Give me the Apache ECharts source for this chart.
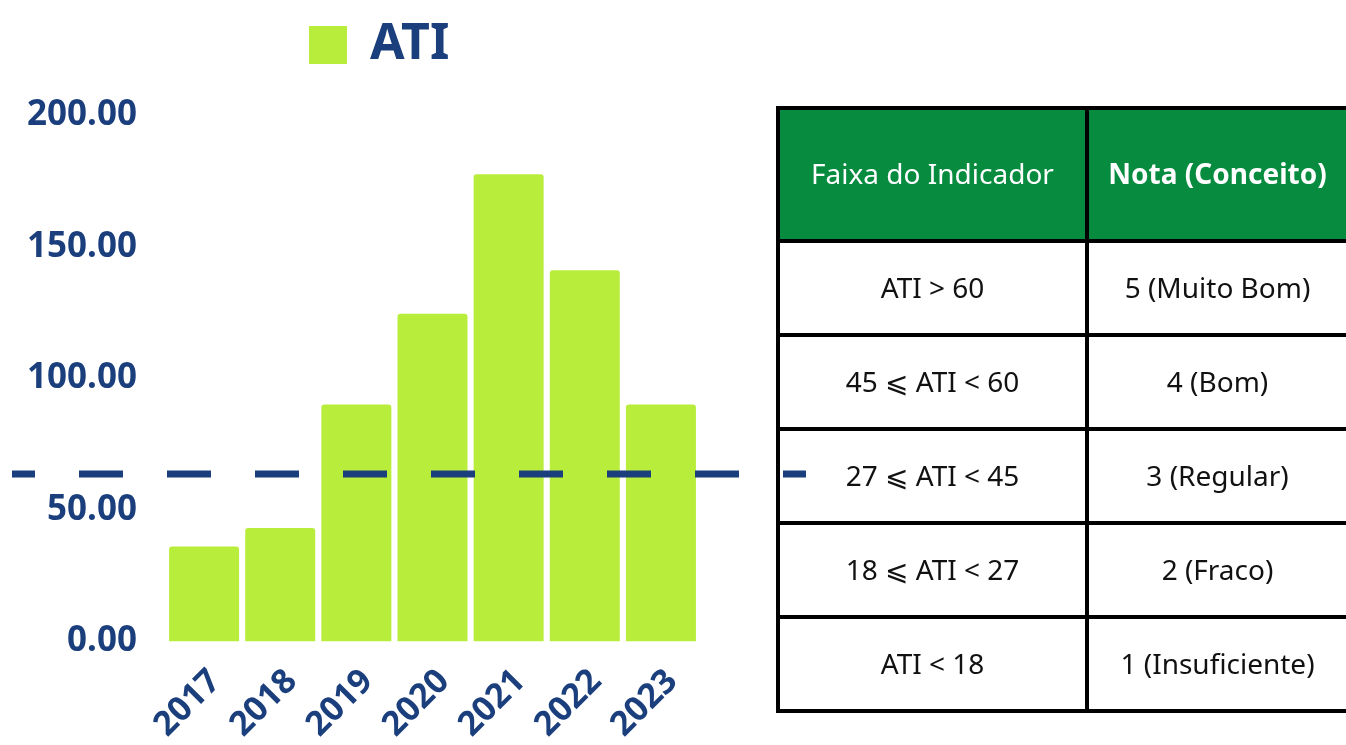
<!DOCTYPE html>
<html>
<head>
<meta charset="utf-8">
<title>ATI</title>
<script src="https://cdn.jsdelivr.net/npm/echarts@6/dist/echarts.min.js"></script>
<style>
  html, body { margin: 0; padding: 0; background: #fff; }
  #main { width: 1346px; height: 745px; }
</style>
</head>
<body>
<div id="main"></div>
<script>
// data
var years = ["2017", "2018", "2019", "2020", "2021", "2022", "2023"];
var atiValues = [36, 43, 90, 124.5, 177.5, 141, 90];
var threshold = 64;
var yTicks = [0, 50, 100, 150, 200];

var tableHeader = ["Faixa do Indicador", "Nota (Conceito)"];
var rangeCol = ["ATI > 60", "45 \u2A7D ATI < 60", "27 \u2A7D ATI < 45", "18 \u2A7D ATI < 27", "ATI < 18"];
var gradeCol = ["5 (Muito Bom)", "4 (Bom)", "3 (Regular)", "2 (Fraco)", "1 (Insuficiente)"];

var navy = "#1b3f7c";
var lime = "#b9ed3b";
var green = "#068b3f";
var font = "'Noto Sans', 'DejaVu Sans', sans-serif";

// table layout
var colEdges = [778, 1087, 1360];
var rowEdges = [108, 241, 335, 429, 523, 617, 711];

function buildTable() {
  var els = [];
  var rows = [tableHeader];
  for (var i = 0; i < rangeCol.length; i++) rows.push([rangeCol[i], gradeCol[i]]);
  for (var r = 0; r < rows.length; r++) {
    for (var c = 0; c < 2; c++) {
      var x = colEdges[c], y = rowEdges[r];
      var w = colEdges[c + 1] - x, h = rowEdges[r + 1] - y;
      var head = r === 0;
      els.push({
        type: "rect",
        z: 1,
        shape: { x: x, y: y, width: w, height: h },
        style: { fill: head ? green : null, stroke: "#000", lineWidth: 4 }
      });
      els.push({
        type: "text",
        z: 3,
        x: x + w / 2 - (c === 1 ? 6 : 0),
        y: y + h / 2 + 2,
        style: {
          text: rows[r][c],
          fill: head ? "#fff" : "#111",
          font: (head && c === 1 ? "bold " : "") + "28px " + font,
          align: "center",
          verticalAlign: "middle"
        }
      });
    }
  }
  return els;
}

var myChart = echarts.init(document.getElementById("main"));
var option = {
  animation: false,
  legend: {
    data: ["ATI"],
    left: 309,
    top: 20,
    padding: 0,
    itemWidth: 38,
    itemHeight: 38,
    icon: "rect",
    textStyle: { color: navy, fontSize: 50, fontWeight: "bold", fontFamily: font, padding: [0, 0, 0, 18] }
  },
  grid: [
    { left: 166, right: 647, top: 115, bottom: 102 },
    { left: 12, width: 794, top: 115, bottom: 102 }
  ],
  xAxis: [
    {
      type: "category",
      gridIndex: 0,
      data: years,
      axisLine: { show: false },
      axisTick: { show: false },
      axisLabel: {
        rotate: 45,
        margin: 46,
        padding: [0, -16, 0, 0],
        color: navy,
        fontSize: 34,
        fontWeight: "bold",
        fontFamily: font
      }
    },
    { type: "value", gridIndex: 1, min: 0, max: 1, show: false }
  ],
  yAxis: [
    {
      type: "value",
      gridIndex: 0,
      min: yTicks[0],
      max: yTicks[yTicks.length - 1],
      interval: 50,
      splitLine: { show: false },
      axisLine: { show: false },
      axisTick: { show: false },
      axisLabel: {
        margin: 29,
        color: navy,
        fontSize: 35,
        fontWeight: "bold",
        fontFamily: font,
        formatter: function (v) { return v.toFixed(2); }
      }
    },
    { type: "value", gridIndex: 1, min: 0, max: 200, show: false }
  ],
  series: [
    {
      name: "ATI",
      type: "bar",
      data: atiValues,
      barWidth: 70,
      itemStyle: { color: lime, borderRadius: [3, 3, 0, 0] }
    },
    {
      name: "limite",
      type: "line",
      xAxisIndex: 1,
      yAxisIndex: 1,
      z: 10,
      symbol: "none",
      silent: true,
      data: [[0, threshold], [1, threshold]],
      lineStyle: { color: navy, width: 7, type: [44, 44], dashOffset: 21, cap: "butt" }
    }
  ],
  graphic: buildTable()
};
option && myChart.setOption(option);
</script>
</body>
</html>
